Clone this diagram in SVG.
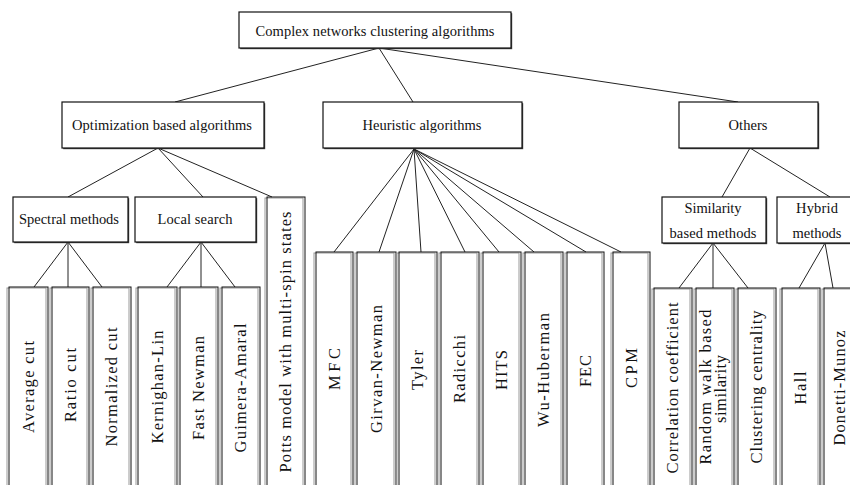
<svg xmlns="http://www.w3.org/2000/svg" width="850" height="485" viewBox="0 0 850 485">
<style>
.bg{fill:#fff}
.box{fill:#fff;stroke:#111;stroke-width:1.2}
.sh{fill:#444}
.lf{fill:none;stroke:#111;stroke-width:1}
.lfs{fill:none;stroke:#999;stroke-width:1}
.t{font-family:"Liberation Serif","Times New Roman",serif;font-size:14.5px;fill:#111;text-anchor:middle}
.lt{font-family:"Liberation Serif","Times New Roman",serif;font-size:16.5px;fill:#111;text-anchor:middle}
.c{stroke:#222;stroke-width:1;fill:none}
</style>
<rect class="bg" x="0" y="0" width="850" height="485"/>
<g id="connectors">
<path class="c" d="M379,48L175,102M379,48L413,102M379,48L738,102"/>
<path class="c" d="M158,148L68,197M158,148L203,197M158,148L272,197"/>
<path class="c" d="M68,242L34,287M68,242L68,287M68,242L102,287"/>
<path class="c" d="M201,242L167,287M201,242L201,287M201,242L235,287"/>
<path class="c" d="M414,149L334,252M414,149L379,252M414,149L421,252M414,149L465,252M414,149L499,252M414,149L534,252M414,149L586,252M414,149L621,252"/>
<path class="c" d="M750,148L722,197M750,148L830,197"/>
<path class="c" d="M713,243L679,288M713,243L713,288M713,243L748,288"/>
<path class="c" d="M825,243L799,288M825,243L833,288"/>
</g>
<g id="root"><rect class="sh" x="240.2" y="13.2" width="272" height="36"/><rect class="box" x="239" y="12" width="272" height="36"/><text class="t" x="375" y="36" textLength="239" lengthAdjust="spacing">Complex networks clustering algorithms</text></g>
<g id="optimization"><rect class="sh" x="63.2" y="103.2" width="202" height="46"/><rect class="box" x="62" y="102" width="202" height="46"/><text class="t" x="162" y="130" textLength="180" lengthAdjust="spacing">Optimization based algorithms</text></g>
<g id="heuristic"><rect class="sh" x="324.2" y="103.2" width="199" height="46"/><rect class="box" x="323" y="102" width="199" height="46"/><text class="t" x="422" y="130" textLength="119" lengthAdjust="spacing">Heuristic algorithms</text></g>
<g id="others"><rect class="sh" x="680.2" y="103.2" width="139" height="46"/><rect class="box" x="679" y="102" width="139" height="46"/><text class="t" x="748" y="130" textLength="39" lengthAdjust="spacing">Others</text></g>
<g id="spectral"><rect class="sh" x="14.2" y="198.2" width="115" height="45"/><rect class="box" x="13" y="197" width="115" height="45"/><text class="t" x="69" y="224" textLength="100" lengthAdjust="spacing">Spectral methods</text></g>
<g id="local"><rect class="sh" x="136.2" y="198.2" width="121" height="45"/><rect class="box" x="135" y="197" width="121" height="45"/><text class="t" x="195" y="224" textLength="75" lengthAdjust="spacing">Local search</text></g>
<g id="similarity"><rect class="sh" x="663.2" y="198.2" width="104" height="46"/><rect class="box" x="662" y="197" width="104" height="46"/><text class="t" x="713" y="213" textLength="57" lengthAdjust="spacing">Similarity</text><text class="t" x="713" y="238" textLength="87" lengthAdjust="spacing">based methods</text></g>
<g id="hybrid"><rect class="sh" x="778.2" y="198.2" width="80" height="46"/><rect class="box" x="777" y="197" width="80" height="46"/><text class="t" x="817" y="213" textLength="42" lengthAdjust="spacing">Hybrid</text><text class="t" x="817" y="238" textLength="49" lengthAdjust="spacing">methods</text></g>
<g id="average-cut"><rect class="lfs" x="7" y="288" width="39" height="220"/><rect class="lf" x="9" y="287" width="39" height="220"/><text class="lt" transform="translate(33.5,387) rotate(-90)" textLength="92" lengthAdjust="spacing">Average cut</text></g>
<g id="ratio-cut"><rect class="lfs" x="50" y="288" width="37" height="220"/><rect class="lf" x="52" y="287" width="37" height="220"/><text class="lt" transform="translate(75.5,385) rotate(-90)" textLength="74" lengthAdjust="spacing">Ratio cut</text></g>
<g id="normalized-cut"><rect class="lfs" x="91" y="288" width="38" height="220"/><rect class="lf" x="93" y="287" width="38" height="220"/><text class="lt" transform="translate(117,387) rotate(-90)" textLength="119" lengthAdjust="spacing">Normalized cut</text></g>
<g id="kernighan-lin"><rect class="lfs" x="136" y="288" width="39" height="220"/><rect class="lf" x="138" y="287" width="39" height="220"/><text class="lt" transform="translate(162.5,387) rotate(-90)" textLength="113" lengthAdjust="spacing">Kernighan-Lin</text></g>
<g id="fast-newman"><rect class="lfs" x="178" y="288" width="38" height="220"/><rect class="lf" x="180" y="287" width="38" height="220"/><text class="lt" transform="translate(204,388) rotate(-90)" textLength="104" lengthAdjust="spacing">Fast Newman</text></g>
<g id="guimera-amaral"><rect class="lfs" x="220" y="288" width="38" height="220"/><rect class="lf" x="222" y="287" width="38" height="220"/><text class="lt" transform="translate(246,388) rotate(-90)" textLength="129" lengthAdjust="spacing">Guimera-Amaral</text></g>
<g id="potts"><rect class="lfs" x="265" y="198" width="38" height="310"/><rect class="lf" x="267" y="197" width="38" height="310"/><text class="lt" transform="translate(291,342) rotate(-90)" textLength="261" lengthAdjust="spacing">Potts model with multi-spin states</text></g>
<g id="mfc"><rect class="lfs" x="314" y="253" width="37" height="250"/><rect class="lf" x="316" y="252" width="37" height="250"/><text class="lt" transform="translate(339.5,369) rotate(-90)" textLength="42" lengthAdjust="spacing">MFC</text></g>
<g id="girvan-newman"><rect class="lfs" x="355" y="253" width="39" height="250"/><rect class="lf" x="357" y="252" width="39" height="250"/><text class="lt" transform="translate(381.5,369) rotate(-90)" textLength="128" lengthAdjust="spacing">Girvan-Newman</text></g>
<g id="tyler"><rect class="lfs" x="397" y="253" width="38" height="250"/><rect class="lf" x="399" y="252" width="38" height="250"/><text class="lt" transform="translate(423,370) rotate(-90)" textLength="40" lengthAdjust="spacing">Tyler</text></g>
<g id="radicchi"><rect class="lfs" x="439" y="253" width="38" height="250"/><rect class="lf" x="441" y="252" width="38" height="250"/><text class="lt" transform="translate(465,369) rotate(-90)" textLength="68" lengthAdjust="spacing">Radicchi</text></g>
<g id="hits"><rect class="lfs" x="481" y="253" width="38" height="250"/><rect class="lf" x="483" y="252" width="38" height="250"/><text class="lt" transform="translate(507,370) rotate(-90)" textLength="40" lengthAdjust="spacing">HITS</text></g>
<g id="wu-huberman"><rect class="lfs" x="523" y="253" width="38" height="250"/><rect class="lf" x="525" y="252" width="38" height="250"/><text class="lt" transform="translate(549,370) rotate(-90)" textLength="114" lengthAdjust="spacing">Wu-Huberman</text></g>
<g id="fec"><rect class="lfs" x="565" y="253" width="37" height="250"/><rect class="lf" x="567" y="252" width="37" height="250"/><text class="lt" transform="translate(590.5,371) rotate(-90)" textLength="32" lengthAdjust="spacing">FEC</text></g>
<g id="cpm"><rect class="lfs" x="611" y="253" width="37" height="250"/><rect class="lf" x="613" y="252" width="37" height="250"/><text class="lt" transform="translate(636.5,368) rotate(-90)" textLength="40" lengthAdjust="spacing">CPM</text></g>
<g id="correlation"><rect class="lfs" x="652" y="289" width="38" height="220"/><rect class="lf" x="654" y="288" width="38" height="220"/><text class="lt" transform="translate(678,388) rotate(-90)" textLength="171" lengthAdjust="spacing">Correlation coefficient</text></g>
<g id="random-walk"><rect class="lfs" x="694" y="289" width="38" height="220"/><rect class="lf" x="696" y="288" width="38" height="220"/><text class="lt" transform="translate(711,387) rotate(-90)" textLength="155" lengthAdjust="spacing">Random walk based</text><text class="lt" transform="translate(726,389) rotate(-90)" textLength="68" lengthAdjust="spacing">similarity</text></g>
<g id="clustering-centrality"><rect class="lfs" x="736" y="289" width="38" height="220"/><rect class="lf" x="738" y="288" width="38" height="220"/><text class="lt" transform="translate(762,387) rotate(-90)" textLength="153" lengthAdjust="spacing">Clustering centrality</text></g>
<g id="hall"><rect class="lfs" x="780" y="289" width="38" height="220"/><rect class="lf" x="782" y="288" width="38" height="220"/><text class="lt" transform="translate(806,388) rotate(-90)" textLength="33" lengthAdjust="spacing">Hall</text></g>
<g id="donetti-munoz"><rect class="lfs" x="822" y="289" width="38" height="220"/><rect class="lf" x="824" y="288" width="38" height="220"/><text class="lt" transform="translate(845,388) rotate(-90)" textLength="115" lengthAdjust="spacing">Donetti-Munoz</text></g>
</svg>
